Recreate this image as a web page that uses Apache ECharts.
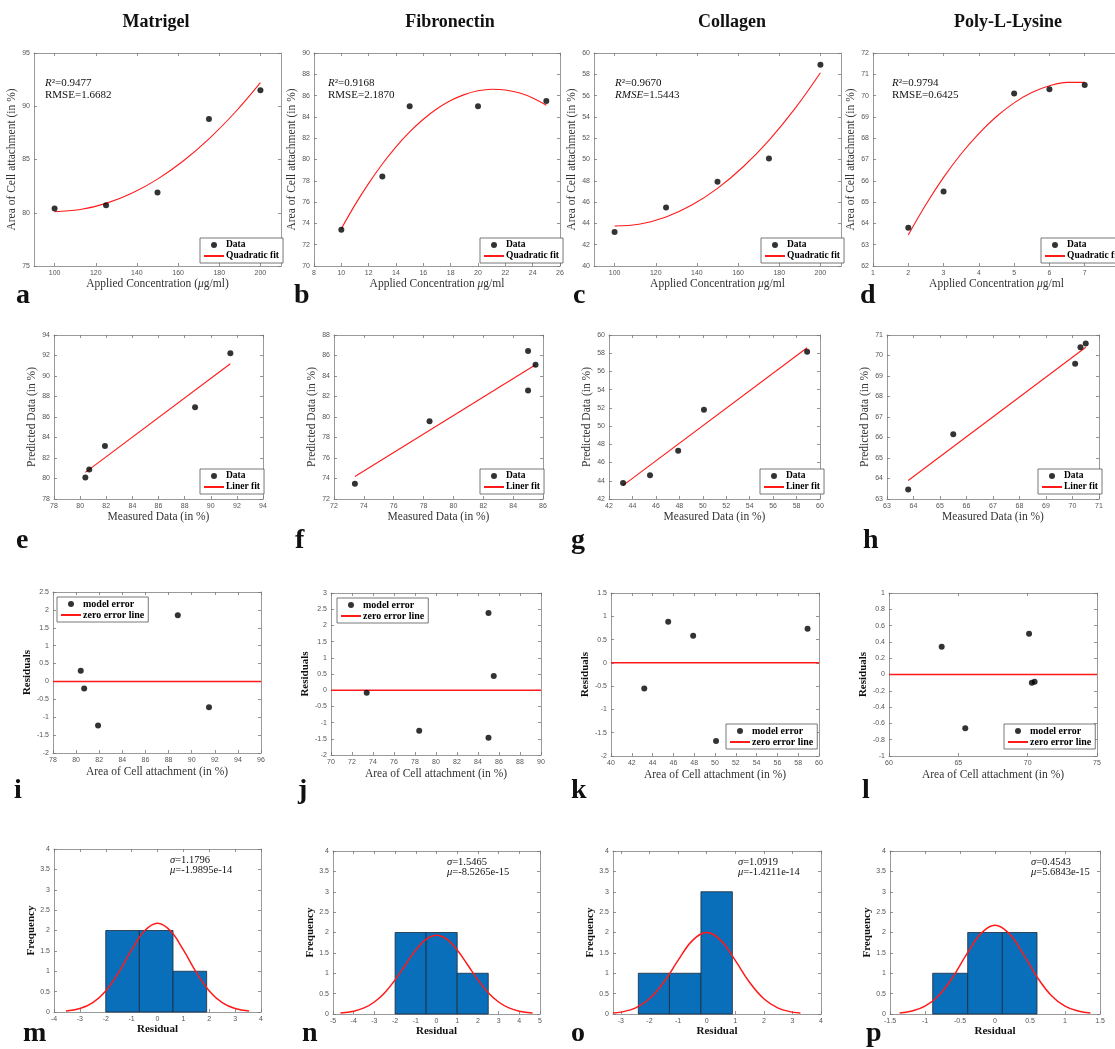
<!DOCTYPE html>
<html><head><meta charset="utf-8">
<script src="https://cdn.jsdelivr.net/npm/echarts@6/dist/echarts.min.js"></script>
<style>html,body{margin:0;padding:0;background:#fff}#c{width:1115px;height:1049px}</style>
</head><body><div id="c"></div>
<script>
// ---------------- DATA ----------------
const columnTitles = ['Matrigel', 'Fibronectin', 'Collagen', 'Poly-L-Lysine'];
const panelLetters = ['a','b','c','d','e','f','g','h','i','j','k','l','m','n','o','p'];

// Row 1: applied concentration vs area of cell attachment
const matrigelConc = [100, 125, 150, 175, 200];
const matrigelArea = [80.4, 80.7, 81.9, 88.8, 91.5];
const matrigelFitX = [100, 112.5, 125, 137.5, 150, 162.5, 175, 187.5, 200];
const matrigelFitY = [80.10, 80.30, 80.88, 81.83, 83.16, 84.86, 86.94, 89.39, 92.22];

const fibronectinConc = [10, 13, 15, 20, 25];
const fibronectinArea = [73.4, 78.4, 85.0, 85.0, 85.5];
const fibronectinFitX = [10, 11, 12, 13, 14, 15, 16, 17, 18, 19, 20, 21, 22, 23, 24, 25];
const fibronectinFitY = [73.50, 75.74, 77.76, 79.58, 81.19, 82.59, 83.78, 84.76, 85.53, 86.09, 86.45, 86.60, 86.53, 86.26, 85.78, 85.09];

const collagenConc = [100, 125, 150, 175, 200];
const collagenArea = [43.2, 45.5, 47.9, 50.1, 58.9];
const collagenFitX = [100, 112.5, 125, 137.5, 150, 162.5, 175, 187.5, 200];
const collagenFitY = [43.75, 43.95, 44.60, 45.72, 47.29, 49.32, 51.80, 54.75, 58.15];

const plysineConc = [2, 3, 5, 6, 7];
const plysineArea = [63.8, 65.5, 70.1, 70.3, 70.5];
const plysineFitX = [2, 2.5, 3, 3.5, 4, 4.5, 5, 5.5, 6, 6.5, 7];
const plysineFitY = [63.46, 64.89, 66.16, 67.27, 68.22, 69.02, 69.66, 70.14, 70.46, 70.62, 70.62];

const fitStats = [
  ['0.9477', '1.6682'], ['0.9168', '2.1870'], ['0.9670', '1.5443'], ['0.9794', '0.6425']
];

// Row 2: measured vs predicted
const matrigelPredicted = [80.10, 80.88, 83.16, 86.94, 92.22];
const fibronectinPredicted = [73.50, 79.58, 82.59, 86.45, 85.09];
const collagenPredicted = [43.75, 44.60, 47.29, 51.80, 58.15];
const plysinePredicted = [63.46, 66.16, 69.60, 70.40, 70.59];
const matrigelLineX = [80.4, 91.5];   const matrigelLineY = [80.6, 91.2];
const fibronectinLineX = [73.4, 85.5]; const fibronectinLineY = [74.2, 85.1];
const collagenLineX = [43.2, 58.9];   const collagenLineY = [43.5, 58.6];
const plysineLineX = [63.8, 70.5];    const plysineLineY = [63.9, 70.4];

// Row 3: residuals
const matrigelResid = [0.30, -0.20, -1.23, 1.85, -0.72];
const fibronectinResid = [-0.08, -1.25, 2.38, -1.47, 0.44];
const collagenResid = [-0.55, 0.88, 0.58, -1.68, 0.73];
const plysineResid = [0.34, -0.66, 0.50, -0.10, -0.09];

// Row 4: residual histograms (bin edges, counts) and normal fit curves
const matrigelBinEdges = [-2.0, -0.7, 0.6, 1.9];   const matrigelCounts = [2, 2, 1];
const fibronectinBinEdges = [-2.0, -0.5, 1.0, 2.5]; const fibronectinCounts = [2, 2, 1];
const collagenBinEdges = [-2.39, -1.30, -0.20, 0.90]; const collagenCounts = [1, 1, 3];
const plysineBinEdges = [-0.89, -0.39, 0.105, 0.60]; const plysineCounts = [1, 2, 2];

const matrigelNormX = [-3.54,-3,-2.5,-2,-1.5,-1,-0.5,0,0.5,1,1.5,2,2.5,3,3.54];
const matrigelNormY = [0.024,0.086,0.231,0.518,0.971,1.522,1.993,2.18,1.993,1.522,0.971,0.518,0.231,0.086,0.024];
const fibronectinNormX = [-4.64,-4,-3.5,-3,-2.5,-2,-1.5,-1,-0.5,0,0.5,1,1.5,2,2.5,3,3.5,4,4.64];
const fibronectinNormY = [0.022,0.068,0.149,0.295,0.524,0.838,1.209,1.570,1.836,1.935,1.836,1.570,1.209,0.838,0.524,0.295,0.149,0.068,0.022];
const collagenNormX = [-3.28,-3,-2.5,-2,-1.5,-1,-0.5,0,0.5,1,1.5,2,2.5,3,3.28];
const collagenNormY = [0.022,0.046,0.145,0.374,0.778,1.315,1.801,2.0,1.801,1.315,0.778,0.374,0.145,0.046,0.022];
const plysineNormX = [-1.363,-1.2,-1,-0.8,-0.6,-0.4,-0.2,0,0.2,0.4,0.6,0.8,1,1.2,1.363];
const plysineNormY = [0.024,0.067,0.193,0.462,0.911,1.480,1.979,2.18,1.979,1.480,0.911,0.462,0.193,0.067,0.024];

const histStats = [
  ['1.1796', '-1.9895e-14'], ['1.5465', '-8.5265e-15'], ['1.0919', '-1.4211e-14'], ['0.4543', '5.6843e-15']
];

// Tick values
const ticksA_x = [100,120,140,160,180,200]; const ticksA_y = [75,80,85,90,95];
const ticksB_x = [8,10,12,14,16,18,20,22,24,26]; const ticksB_y = [70,72,74,76,78,80,82,84,86,88,90];
const ticksC_x = [100,120,140,160,180,200]; const ticksC_y = [40,42,44,46,48,50,52,54,56,58,60];
const ticksD_x = [1,2,3,4,5,6,7,8]; const ticksD_y = [62,63,64,65,66,67,68,69,70,71,72];
const ticksE = [78,80,82,84,86,88,90,92,94];
const ticksF_x = [72,74,76,78,80,82,84,86]; const ticksF_y = [72,74,76,78,80,82,84,86,88];
const ticksG = [42,44,46,48,50,52,54,56,58,60];
const ticksH = [63,64,65,66,67,68,69,70,71];
const ticksI_x = [78,80,82,84,86,88,90,92,94,96]; const ticksI_y = [-2,-1.5,-1,-0.5,0,0.5,1,1.5,2,2.5];
const ticksJ_x = [70,72,74,76,78,80,82,84,86,88,90]; const ticksJ_y = [-2,-1.5,-1,-0.5,0,0.5,1,1.5,2,2.5,3];
const ticksK_x = [40,42,44,46,48,50,52,54,56,58,60]; const ticksK_y = [-2,-1.5,-1,-0.5,0,0.5,1,1.5];
const ticksL_x = [60,65,70,75]; const ticksL_y = [-1,-0.8,-0.6,-0.4,-0.2,0,0.2,0.4,0.6,0.8,1];
const ticksM_x = [-4,-3,-2,-1,0,1,2,3,4];
const ticksN_x = [-5,-4,-3,-2,-1,0,1,2,3,4,5];
const ticksO_x = [-3,-2,-1,0,1,2,3,4];
const ticksP_x = [-1.5,-1,-0.5,0,0.5,1,1.5];
const ticksFreq = [0,0.5,1,1.5,2,2.5,3,3.5,4];

// ---------------- STYLE / LAYOUT ----------------
const SERIF = "'Liberation Serif','DejaVu Serif',serif";
const SANS = "'Liberation Sans','DejaVu Sans',sans-serif";
const AXC = '#9a9a9a', TICKC = '#777', LABC = '#555', NAMEC = '#333';
const RED = '#ff1a1a', BLUE = '#0a6fbb';

const grids = [], xAxes = [], yAxes = [], series = [], legends = [], graphics = [];
const zip = (a, b) => a.map((v, i) => [v, b[i]]);

function axisPair(gi, dir, range, ticks, name, gap, bold) {
  const isX = dir === 'x';
  const line = {show: true, onZero: false, lineStyle: {color: AXC, width: 1}};
  const tick = {show: true, inside: true, length: 3, customValues: ticks, lineStyle: {color: TICKC, width: 0.8}};
  const main = {
    type: 'value', gridIndex: gi, position: isX ? 'bottom' : 'left',
    min: range[0], max: range[1], scale: true,
    name: name, nameLocation: 'middle', nameGap: gap,
    nameTextStyle: {fontFamily: SERIF, fontSize: bold ? 11 : 11.5, fontWeight: bold ? 'bold' : 'normal', color: bold ? '#111' : NAMEC,
      rich: {i: {fontFamily: SERIF, fontSize: 11.5, fontStyle: 'italic', color: NAMEC}}},
    axisLine: line, axisTick: tick,
    axisLabel: {customValues: ticks, fontFamily: SANS, fontSize: 7, color: LABC, margin: 4},
    splitLine: {show: false}
  };
  const twin = {
    type: 'value', gridIndex: gi, position: isX ? 'top' : 'right',
    min: range[0], max: range[1], scale: true,
    axisLine: line, axisTick: tick, axisLabel: {show: false}, splitLine: {show: false}
  };
  const arr = isX ? xAxes : yAxes;
  const idx = arr.length;
  arr.push(main, twin);
  return idx;
}

function panel(box, xr, xt, yr, yt, xName, yName, xGap, yGap, bold) {
  const gi = grids.length;
  grids.push({left: box[0], top: box[1], width: box[2], height: box[3], containLabel: false, outerBoundsMode: 'none'});
  const xi = axisPair(gi, 'x', xr, xt, xName, xGap, bold && bold.x);
  const yi = axisPair(gi, 'y', yr, yt, yName, yGap, bold && bold.y);
  return {xi, yi};
}

function scatter(ax, name, xs, ys) {
  series.push({type: 'scatter', name, xAxisIndex: ax.xi, yAxisIndex: ax.yi, data: zip(xs, ys),
    symbol: 'circle', symbolSize: 6, symbolKeepAspect: true, itemStyle: {color: '#000'}, z: 4, silent: true});
}
function curve(ax, name, xs, ys, width, smooth) {
  series.push({type: 'line', name, xAxisIndex: ax.xi, yAxisIndex: ax.yi, data: zip(xs, ys),
    symbol: 'none', showSymbol: false, smooth: smooth ? 0.4 : false,
    lineStyle: {color: RED, width: width}, itemStyle: {color: RED}, z: 3, silent: true});
}
function hist(ax, edges, counts) {
  const d = counts.map((c, i) => [edges[i], edges[i + 1], c]);
  series.push({type: 'custom', xAxisIndex: ax.xi, yAxisIndex: ax.yi, data: d, silent: true, z: 2,
    encode: {x: [0, 1], y: 2},
    renderItem: (params, api) => {
      const p0 = api.coord([api.value(0), api.value(2)]);
      const p1 = api.coord([api.value(1), 0]);
      return {type: 'rect', shape: {x: p0[0], y: p0[1], width: p1[0] - p0[0], height: p1[1] - p0[1]},
        style: {fill: BLUE, stroke: '#1b2a3a', lineWidth: 0.8}};
    }});
}
function legend(left, top, names, fs) {
  legends.push({show: true, left, top, orient: 'vertical', selectedMode: false,
    itemGap: 1, itemWidth: 20, itemHeight: 6, padding: [2, 4, 2, 3],
    borderColor: '#555', borderWidth: 0.8, backgroundColor: '#fff',
    textStyle: {fontFamily: SERIF, fontWeight: 'bold', fontSize: fs, color: '#000', padding: [0, 0, 0, -3]},
    data: [{name: names[0], icon: 'circle'},
           {name: names[1], itemStyle: {color: 'rgba(0,0,0,0)', opacity: 0, borderWidth: 0}}]});
}
function text(x, y, str, font, align, vAlign, lh, rich) {
  graphics.push({type: 'text', x, y, silent: true,
    style: {text: str, font, fill: '#111', align: align, verticalAlign: vAlign, lineHeight: lh, rich: rich}});
}

// ---------- Row 1 ----------
const row1Boxes = [[34,53,247,213],[314,53,246,213],[594,53,247,213],[873,53,247,213]];
const row1XR = [[90,210],[8,26],[90,210],[1,8]];
const row1YR = [[75,95],[70,90],[40,60],[62,72]];
const row1XT = [ticksA_x, ticksB_x, ticksC_x, ticksD_x];
const row1YT = [ticksA_y, ticksB_y, ticksC_y, ticksD_y];
const row1XNames = ['Applied Concentration ({i|μ}g/ml)', 'Applied Concentration {i|μ}g/ml', 'Applied Concentration {i|μ}g/ml', 'Applied Concentration {i|μ}g/ml'];
const row1Conc = [matrigelConc, fibronectinConc, collagenConc, plysineConc];
const row1Area = [matrigelArea, fibronectinArea, collagenArea, plysineArea];
const row1FitX = [matrigelFitX, fibronectinFitX, collagenFitX, plysineFitX];
const row1FitY = [matrigelFitY, fibronectinFitY, collagenFitY, plysineFitY];
const row1Leg = [[200,238],[480,238],[761,238],[1041,238]];
const row1Ann = [45, 328, 615, 892];
for (let k = 0; k < 4; k++) {
  const ax = panel(row1Boxes[k], row1XR[k], row1XT[k], row1YR[k], row1YT[k], row1XNames[k], 'Area of Cell attachment (in %)', 11, 14);
  scatter(ax, 'Data', row1Conc[k], row1Area[k]);
  curve(ax, 'Quadratic fit', row1FitX[k], row1FitY[k], 1.1, true);
  legend(row1Leg[k][0], row1Leg[k][1], ['Data', 'Quadratic fit'], 9.5);
  const rm = k === 2 ? '{i|RMSE}' : 'RMSE';
  text(row1Ann[k], 77, '{i|R}²=' + fitStats[k][0] + '\n' + rm + '=' + fitStats[k][1], "11px " + SERIF, 'left', 'top', 12,
    {i: {fontStyle: 'italic', fontFamily: SERIF, fontSize: 11, fill: '#111'}});
}

// ---------- Row 2 ----------
const row2Boxes = [[54,335,209,164],[334,335,209,164],[609,335,211,164],[887,335,212,164]];
const row2XR = [[78,94],[72,86],[42,60],[63,71]];
const row2YR = [[78,94],[72,88],[42,60],[63,71]];
const row2XT = [ticksE, ticksF_x, ticksG, ticksH];
const row2YT = [ticksE, ticksF_y, ticksG, ticksH];
const row2Pred = [matrigelPredicted, fibronectinPredicted, collagenPredicted, plysinePredicted];
const row2LX = [matrigelLineX, fibronectinLineX, collagenLineX, plysineLineX];
const row2LY = [matrigelLineY, fibronectinLineY, collagenLineY, plysineLineY];
const row2Leg = [[200,469],[480,469],[760,469],[1038,469]];
for (let k = 0; k < 4; k++) {
  const ax = panel(row2Boxes[k], row2XR[k], row2XT[k], row2YR[k], row2YT[k], 'Measured Data (in %)', 'Predicted Data (in %)', 9, 13);
  scatter(ax, 'Data', row1Area[k], row2Pred[k]);
  curve(ax, 'Liner fit', row2LX[k], row2LY[k], 1.1, false);
  legend(row2Leg[k][0], row2Leg[k][1], ['Data', 'Liner fit'], 9.5);
}

// ---------- Row 3 ----------
const row3Boxes = [[53,592,208,161],[331,593,210,162],[611,593,208,163],[889,593,208,163]];
const row3XR = [[78,96],[70,90],[40,60],[60,75]];
const row3YR = [[-2,2.5],[-2,3],[-2,1.5],[-1,1]];
const row3XT = [ticksI_x, ticksJ_x, ticksK_x, ticksL_x];
const row3YT = [ticksI_y, ticksJ_y, ticksK_y, ticksL_y];
const row3Res = [matrigelResid, fibronectinResid, collagenResid, plysineResid];
const row3Leg = [[57,597],[337,598],[726,724],[1004,724]];
for (let k = 0; k < 4; k++) {
  const ax = panel(row3Boxes[k], row3XR[k], row3XT[k], row3YR[k], row3YT[k], 'Area of Cell attachment (in %)', 'Residuals', 13, 15, {y: true});
  scatter(ax, 'model error', row1Area[k], row3Res[k]);
  curve(ax, 'zero error line', row3XR[k], [0, 0], 1.5, false);
  legend(row3Leg[k][0], row3Leg[k][1], ['model error', 'zero error line'], 10);
}

// ---------- Row 4 ----------
const row4Boxes = [[54,849,207,163],[333,851,207,163],[613,851,208,163],[890,851,210,163]];
const row4XR = [[-4,4],[-5,5],[-3.2757,4],[-1.5,1.5]];
const row4XT = [ticksM_x, ticksN_x, ticksO_x, ticksP_x];
const row4Edges = [matrigelBinEdges, fibronectinBinEdges, collagenBinEdges, plysineBinEdges];
const row4Counts = [matrigelCounts, fibronectinCounts, collagenCounts, plysineCounts];
const row4NX = [matrigelNormX, fibronectinNormX, collagenNormX, plysineNormX];
const row4NY = [matrigelNormY, fibronectinNormY, collagenNormY, plysineNormY];
const row4Ann = [[170,855],[447,857],[738,857],[1031,857]];
for (let k = 0; k < 4; k++) {
  const ax = panel(row4Boxes[k], row4XR[k], row4XT[k], [0,4], ticksFreq, 'Residual', 'Frequency', 12, 14, {x: true, y: true});
  hist(ax, row4Edges[k], row4Counts[k]);
  curve(ax, 'normal fit', row4NX[k], row4NY[k], 1.5, true);
  text(row4Ann[k][0], row4Ann[k][1], '{i|σ}=' + histStats[k][0] + '\n{i|μ}=' + histStats[k][1], "10.5px " + SERIF, 'left', 'top', 10,
    {i: {fontStyle: 'italic', fontFamily: SERIF, fontSize: 10.5, fill: '#111'}});
}

// ---------- Titles and panel letters ----------
const titleX = [156, 450, 732, 1008];
for (let k = 0; k < 4; k++) text(titleX[k], 22, columnTitles[k], "bold 18px " + SERIF, 'center', 'middle', 20);
const letterX = [16, 294, 573, 860, 16, 295, 571, 863, 14, 298, 571, 862, 23, 302, 571, 866];
const letterY = [311, 311, 311, 311, 556, 556, 556, 556, 806, 806, 806, 806, 1049, 1049, 1049, 1049];
panelLetters.forEach((l, i) => text(letterX[i], letterY[i], l, "bold 28px " + SERIF, 'left', 'bottom', 30));

const chart = echarts.init(document.getElementById('c'), null, {renderer: 'canvas'});
chart.setOption({
  backgroundColor: '#fff',
  animation: false,
  grid: grids, xAxis: xAxes, yAxis: yAxes, series: series, legend: legends,
  graphic: {elements: graphics}
});
</script></body></html>
